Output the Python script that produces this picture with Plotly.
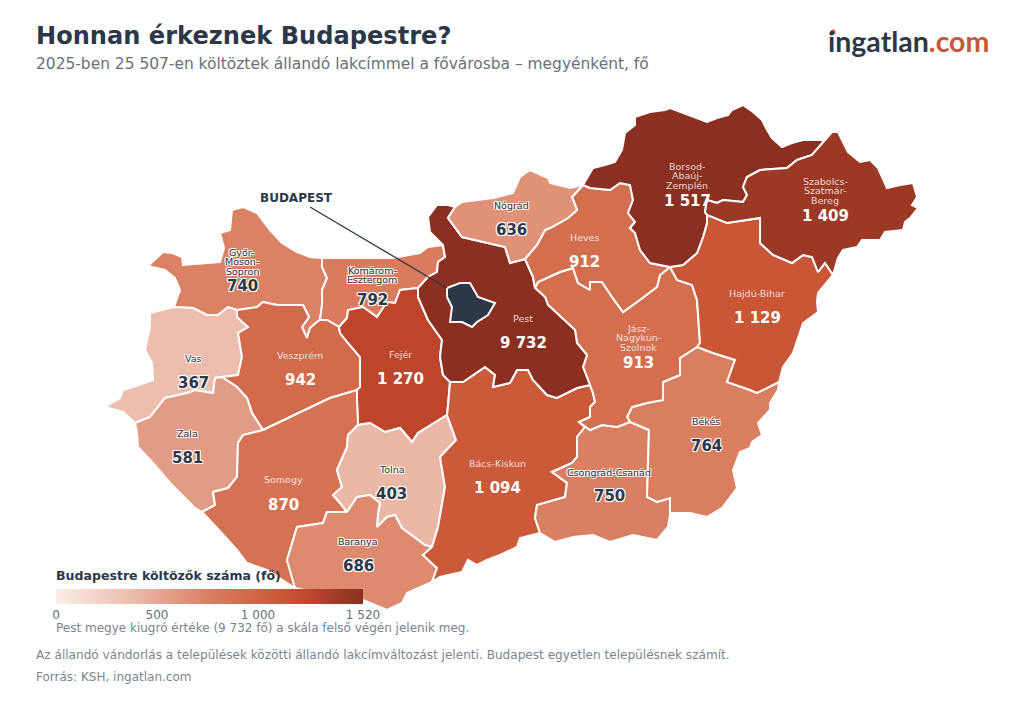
import plotly.graph_objects as go
from plotly.colors import sample_colorscale

# county data
counties = ["Győr-Moson-Sopron", "Komárom-Esztergom", "Vas", "Veszprém", "Fejér", "Zala", "Somogy", "Tolna",
            "Baranya", "Bács-Kiskun", "Csongrád-Csanád", "Békés", "Jász-Nagykun-Szolnok", "Hajdú-Bihar", "Pest",
            "Heves", "Nógrád", "Borsod-Abaúj-Zemplén", "Szabolcs-Szatmár-Bereg"]
movers = [740, 792, 367, 942, 1270, 581, 870, 403, 686, 1094, 750, 764, 913, 1129, 9732, 912, 636, 1517, 1409]
label_lines = [["Győr-", "Moson-", "Sopron"], ["Komárom-", "Esztergom"], ["Vas"], ["Veszprém"], ["Fejér"], ["Zala"],
               ["Somogy"], ["Tolna"], ["Baranya"], ["Bács-Kiskun"], ["Csongrád-Csanád"], ["Békés"],
               ["Jász-", "Nagykun-", "Szolnok"], ["Hajdú-Bihar"], ["Pest"], ["Heves"], ["Nógrád"],
               ["Borsod-", "Abaúj-", "Zemplén"], ["Szabolcs-", "Szatmár-", "Bereg"]]

# where the labels sit on the map
label_x = [242, 372, 193, 300, 400, 187, 283, 391, 358, 497, 609, 706, 638, 757, 523, 584, 511, 687, 825]
label_y = [252, 270, 358, 355, 354, 433, 479, 469, 541, 463, 472, 421, 328, 293, 318, 237, 205, 166, 181]
value_y = [286, 300, 383, 380, 379, 458, 505, 494, 566, 488, 496, 446, 363, 318, 343, 262, 230, 201, 216]

colorscale = [[0, "#FBEEE7"], [0.25, "#ECBCAC"], [0.5, "#DA7E60"], [0.72, "#CB5A3A"],
              [0.835, "#BC452C"], [0.927, "#9C3926"], [1, "#8B3020"]]
scale_max = 1520
tick_vals = [0, 500, 1000, 1520]
tick_text = ["0", "500", "1 000", "1 520"]

# county borders, map outline
gms_outer = [(174, 307), (180, 290), (175, 278), (165, 270), (148, 266), (163, 252), (172, 253), (182, 257), (183, 265),
             (220, 262), (224, 248), (220, 233), (230, 230), (232, 210), (243, 207), (257, 213), (270, 230), (282, 243),
             (297, 252), (310, 257), (322, 258)]
gms_ke = [(322, 258), (322, 267), (327, 278), (322, 290), (322, 305), (320, 320)]
gms_vesz = [(320, 320), (317, 322), (310, 328), (307, 338), (302, 327), (309, 317), (303, 305), (290, 305), (277, 305),
            (263, 302), (257, 307), (237, 310)]
gms_vas = [(237, 310), (228, 307), (218, 315), (207, 315), (193, 308), (174, 307)]
ke_outer = [(322, 258), (353, 258), (393, 258), (420, 253), (428, 247), (443, 245)]
ke_pest = [(443, 245), (445, 257), (438, 262), (437, 272), (428, 277), (418, 288)]
ke_fejer = [(418, 288), (400, 290), (395, 303), (387, 302), (377, 317), (363, 307), (348, 310), (347, 318), (339, 327)]
ke_vesz = [(339, 327), (327, 320), (320, 320)]
vas_outer = [(174, 307), (150, 313), (150, 327), (148, 335), (145, 350), (152, 363), (153, 380), (133, 387), (123, 390),
             (120, 398), (105, 407), (123, 412), (132, 420), (135, 423)]
vas_zala = [(135, 423), (150, 417), (165, 398), (187, 393), (195, 390), (213, 393), (215, 378), (222, 377)]
vas_vesz = [(222, 377), (238, 375), (242, 357), (238, 333), (248, 327), (237, 317), (237, 310)]
vesz_zala = [(222, 377), (237, 387), (247, 398), (252, 413), (263, 430)]
vesz_somogy = [(263, 430), (300, 412), (330, 398), (357, 390)]
fejer_vesz = [(357, 390), (360, 387), (360, 357), (348, 343), (340, 333), (339, 327)]
fejer_somogy = [(357, 390), (357, 400), (358, 425)]
fejer_pest = [(418, 288), (418, 297), (428, 320), (442, 340), (440, 357), (443, 375), (450, 382)]
fejer_bk = [(450, 382), (448, 407), (447, 415)]
fejer_tolna = [(447, 415), (418, 433), (412, 442), (400, 428), (385, 432), (370, 423), (358, 425)]
zala_somogy = [(263, 430), (243, 435), (238, 443), (237, 477), (228, 488), (213, 492), (215, 505), (202, 512)]
zala_outer = [(202, 512), (195, 508), (172, 485), (153, 463), (138, 447), (137, 432), (135, 423)]
somogy_outer = [(295, 588), (267, 570), (247, 563), (237, 550), (217, 528), (202, 512)]
somogy_baranya = [(347, 512), (327, 512), (323, 523), (297, 527), (287, 560), (295, 588)]
tolna_somogy = [(347, 512), (340, 503), (333, 495), (342, 487), (337, 470), (347, 447), (348, 435), (358, 425)]
tolna_bk = [(447, 415), (456, 440), (440, 457), (445, 487), (438, 527), (432, 547)]
tolna_baranya = [(432, 547), (425, 545), (402, 528), (395, 515), (387, 517), (377, 527), (378, 513), (380, 503),
                 (370, 495), (357, 497), (347, 512)]
baranya_bk = [(432, 547), (423, 555), (437, 568), (432, 582)]
baranya_outer = [(432, 582), (407, 593), (402, 603), (387, 610), (363, 600), (330, 595), (295, 588)]
bk_outer = [(540, 533), (520, 538), (517, 547), (500, 555), (487, 560), (477, 565), (468, 560), (462, 572), (440, 577),
            (432, 582)]
pest_nw = [(443, 245), (430, 232), (428, 217), (437, 205), (448, 205), (455, 207)]
pest_nograd = [(455, 207), (448, 218), (462, 237), (487, 243), (505, 247), (510, 263), (525, 259)]
pest_heves = [(525, 259), (533, 277), (535, 288)]
pest_jnsz = [(535, 288), (545, 297), (548, 305), (575, 330), (577, 343), (587, 355), (583, 367), (590, 385)]
pest_bk = [(590, 385), (577, 388), (557, 398), (547, 395), (533, 380), (528, 370), (517, 370), (510, 383), (493, 387),
           (495, 375), (485, 367), (463, 382), (450, 382)]
nograd_outer = [(455, 207), (462, 202), (493, 198), (513, 193), (520, 177), (530, 170), (548, 178), (550, 183),
                (570, 188), (583, 185)]
nograd_heves = [(583, 185), (572, 197), (577, 210), (568, 218), (552, 227), (545, 230), (537, 245), (525, 259)]
borsod_outer = [(583, 185), (593, 168), (605, 165), (615, 162), (622, 150), (625, 133), (635, 125), (635, 117),
                (650, 112), (665, 110), (670, 108), (683, 113), (693, 117), (707, 122), (717, 118), (728, 115),
                (732, 110), (743, 105), (753, 112), (762, 120), (767, 130), (772, 138), (782, 147), (792, 143),
                (803, 140), (825, 140)]
borsod_szab = [(825, 140), (812, 155), (797, 160), (787, 168), (760, 170), (747, 177), (743, 187), (747, 195),
               (743, 202), (723, 200), (717, 203), (707, 200), (705, 212), (707, 215)]
borsod_hajdu = [(707, 215), (707, 223), (703, 237), (697, 253), (683, 265), (670, 267)]
borsod_heves = [(670, 267), (650, 263), (640, 250), (635, 233), (630, 228), (635, 222), (628, 213), (633, 200),
                (630, 185), (620, 183), (610, 190), (590, 188), (583, 185)]
heves_jnsz = [(535, 288), (538, 282), (560, 272), (573, 268), (578, 283), (590, 290), (590, 282), (602, 282),
              (612, 297), (623, 312), (637, 302), (657, 287), (660, 275), (670, 267)]
szab_outer = [(825, 140), (832, 132), (838, 132), (842, 140), (848, 152), (860, 162), (870, 160), (878, 168),
              (883, 180), (887, 188), (900, 185), (913, 183), (917, 197), (912, 205), (918, 208), (910, 218),
              (905, 222), (903, 230), (885, 232), (880, 240), (872, 240), (862, 240), (857, 247), (843, 250),
              (838, 258), (833, 275)]
szab_hajdu = [(833, 275), (825, 263), (818, 272), (812, 257), (803, 255), (792, 263), (773, 255), (760, 243),
              (760, 218), (727, 223), (713, 217), (707, 215)]
hajdu_outer = [(833, 275), (818, 293), (817, 302), (818, 312), (803, 323), (793, 353), (783, 367), (779, 382)]
hajdu_bekes = [(779, 382), (757, 393), (750, 390), (727, 382), (735, 360), (713, 353), (697, 347)]
jnsz_hajdu = [(670, 267), (677, 280), (692, 285), (697, 300), (700, 343), (697, 347)]
jnsz_bekes = [(697, 347), (680, 358), (680, 375), (663, 382), (663, 400), (647, 403), (632, 407), (627, 417), (630, 422)]
jnsz_csong = [(630, 422), (617, 427), (602, 425), (590, 430), (579, 422)]
jnsz_bk = [(590, 385), (593, 393), (595, 402), (590, 407), (590, 417), (579, 422)]
csong_bk = [(579, 422), (585, 427), (577, 437), (577, 457), (572, 463), (552, 472), (567, 483), (565, 497), (537, 505),
            (535, 518), (540, 533)]
csong_outer = [(540, 533), (555, 542), (573, 537), (593, 535), (610, 542), (633, 535), (657, 540), (668, 527), (670, 515)]
csong_bekes = [(670, 515), (670, 498), (657, 502), (647, 497), (649, 430), (630, 422)]
bekes_outer = [(779, 382), (778, 390), (770, 403), (770, 410), (758, 423), (762, 435), (752, 442), (750, 448),
               (740, 452), (733, 470), (737, 488), (722, 508), (707, 517), (690, 513), (672, 513), (670, 515)]
budapest_outline = [(447, 288), (460, 283), (470, 283), (478, 297), (495, 303), (488, 315), (477, 322), (472, 327),
                    (462, 322), (450, 322), (452, 307), (447, 297), (447, 288)]


def rev(seg):
    return seg[::-1]


outlines = [
    gms_outer + gms_ke + gms_vesz + gms_vas,
    ke_outer + ke_pest + ke_fejer + ke_vesz + rev(gms_ke),
    vas_outer + vas_zala + vas_vesz + gms_vas,
    gms_vesz + rev(vas_vesz) + vesz_zala + vesz_somogy + fejer_vesz + ke_vesz,
    rev(ke_fejer) + fejer_pest + fejer_bk + fejer_tolna + rev(fejer_somogy) + fejer_vesz,
    vas_zala + vesz_zala + zala_somogy + zala_outer,
    vesz_somogy + fejer_somogy + rev(tolna_somogy) + somogy_baranya + somogy_outer + rev(zala_somogy),
    rev(fejer_tolna) + tolna_bk + tolna_baranya + tolna_somogy,
    rev(tolna_baranya) + baranya_bk + baranya_outer + rev(somogy_baranya),
    rev(pest_bk) + jnsz_bk + csong_bk + bk_outer + rev(baranya_bk) + rev(tolna_bk) + rev(fejer_bk),
    rev(jnsz_csong) + rev(csong_bekes) + rev(csong_outer) + rev(csong_bk),
    rev(hajdu_bekes) + bekes_outer + csong_bekes + rev(jnsz_bekes),
    heves_jnsz + jnsz_hajdu + jnsz_bekes + jnsz_csong + rev(jnsz_bk) + rev(pest_jnsz),
    rev(szab_hajdu) + hajdu_outer + hajdu_bekes + rev(jnsz_hajdu) + rev(borsod_hajdu),
    rev(ke_pest) + pest_nw + pest_nograd + pest_heves + pest_jnsz + pest_bk + rev(fejer_pest),
    rev(nograd_heves) + rev(borsod_heves) + rev(heves_jnsz) + rev(pest_heves),
    nograd_outer + nograd_heves + rev(pest_nograd),
    borsod_outer + borsod_szab + borsod_hajdu + borsod_heves,
    szab_outer + szab_hajdu + rev(borsod_szab),
]

NAVY = "#2D3748"
GREY = "#68707A"
FOOT = "#7B8490"
ORANGE = "#C8553A"
FONT = "DejaVu Sans"
HALO = "-1px -1px 0 #fff, 1px -1px 0 #fff, -1px 1px 0 #fff, 1px 1px 0 #fff"

fig = go.Figure()

for name, value, outline in zip(counties, movers, outlines):
    share = min(value, scale_max) / scale_max
    fig.add_trace(go.Scatter(x=[p[0] for p in outline], y=[p[1] for p in outline], mode="lines", fill="toself",
                             fillcolor=sample_colorscale(colorscale, share)[0], name=name,
                             line=dict(color="white", width=2), hoverinfo="name", showlegend=False))

fig.add_trace(go.Scatter(x=[p[0] for p in budapest_outline], y=[p[1] for p in budapest_outline], mode="lines",
                         fill="toself", fillcolor=NAVY, line=dict(color="white", width=2), name="Budapest",
                         hoverinfo="name", showlegend=False))

# leader line of the Budapest label
fig.add_trace(go.Scatter(x=[310, 447], y=[207, 288], mode="lines", line=dict(color=NAVY, width=1.3), hoverinfo="skip",
                         showlegend=False))

# county names and values, dark text on the light counties
for i, name in enumerate(counties):
    dark = movers[i] < 800
    for n, line in enumerate(label_lines[i]):
        fig.add_annotation(x=label_x[i], y=label_y[i] + n * 9.7, text=line, showarrow=False,
                           font=dict(family=FONT, size=9.5, color=NAVY if dark else "rgba(255,255,255,0.8)",
                                     shadow=HALO if dark else "none"))
    fig.add_annotation(x=label_x[i], y=value_y[i], text="<b>" + f"{movers[i]:,}".replace(",", " ") + "</b>",
                       showarrow=False,
                       font=dict(family=FONT, size=15, color=NAVY if dark else "white",
                                 shadow=HALO if dark else "none"))

# colour bar, hung on an invisible marker
fig.add_trace(go.Scatter(x=[None], y=[None], mode="markers", hoverinfo="skip", showlegend=False,
                         marker=dict(color=[0], cmin=0, cmax=scale_max, colorscale=colorscale, showscale=True,
                                     colorbar=dict(orientation="h", x=56 / 1024, xanchor="left", xpad=0,
                                                   y=1 - 589 / 710, yanchor="top", ypad=0, len=307, lenmode="pixels",
                                                   thickness=15, outlinewidth=0, tickvals=tick_vals, ticktext=tick_text,
                                                   ticks="", tickfont=dict(family=FONT, size=12, color=GREY)))))

# red dot of the logo's i
fig.add_trace(go.Scatter(x=[833], y=[32], mode="markers", marker=dict(color=ORANGE, size=5), hoverinfo="skip",
                         showlegend=False))


def text(x, y, s, size, color, family=FONT):
    fig.add_annotation(x=x, y=y, xshift=-2, text=s, showarrow=False, xanchor="left", yanchor="middle",
                       font=dict(family=family, size=size, color=color))


text(36, 36, "<b>Honnan érkeznek Budapestre?</b>", 24.1, NAVY)
text(36, 64, "2025-ben 25 507-en költöztek állandó lakcímmel a fővárosba – megyénként, fő", 15.45, GREY)
text(260, 198, "<b>BUDAPEST</b>", 12, NAVY)
text(56, 575, "<b>Budapestre költözők száma (fő)</b>", 12.55, NAVY)
text(56, 628, "Pest megye kiugró értéke (9 732 fő) a skála felső végén jelenik meg.", 12, FOOT)
text(36, 655, "Az állandó vándorlás a települések közötti állandó lakcímváltozást jelenti. Budapest egyetlen településnek számít.", 12.1, FOOT)
text(36, 677, "Forrás: KSH, ingatlan.com", 12, FOOT)
text(828, 41, f'<b>ingatlan<span style="color:{ORANGE}">.com</span></b>', 28.5, NAVY, "Lato")

fig.update_xaxes(range=[0, 1024], visible=False, fixedrange=True)
fig.update_yaxes(range=[710, 0], visible=False, fixedrange=True)
fig.update_layout(width=1024, height=710, margin=dict(l=0, r=0, t=0, b=0), plot_bgcolor="white", paper_bgcolor="white",
                  font=dict(family=FONT))

fig.write_html("out.html", config={"displayModeBar": False}, post_script="document.body.style.margin='0';")
